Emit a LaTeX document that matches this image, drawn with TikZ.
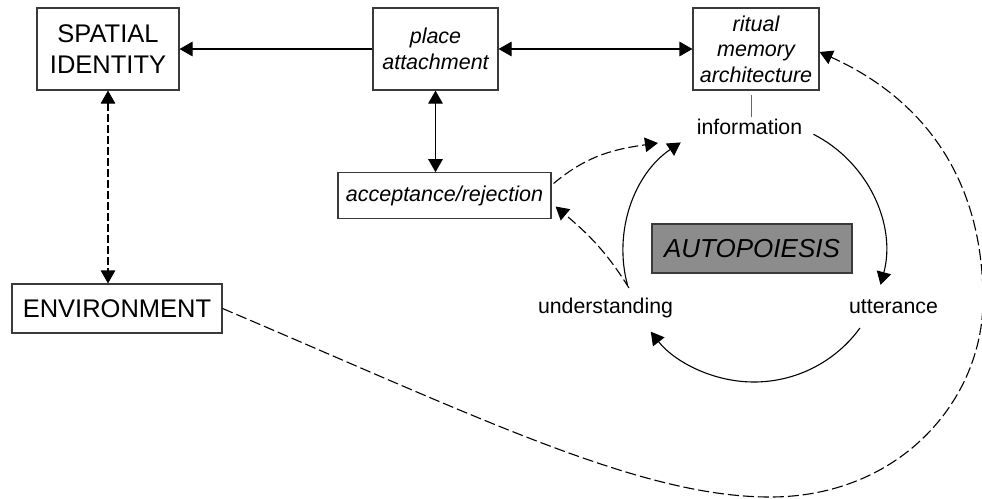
\documentclass[tikz,border=0pt]{standalone}
\usepackage{fontspec}
\setmainfont{Liberation Sans}
\usetikzlibrary{arrows.meta,calc}

\definecolor{boxline}{HTML}{3A3A3A}
\definecolor{autofill}{HTML}{8C8C8C}

\tikzset{
  box/.style={draw=boxline, line width=1.1pt, fill=white, rectangle,
    inner sep=0pt, align=center},
  bigtext/.style={font=\fontsize{25.5}{31}\selectfont},
  ittext/.style={font=\fontsize{21.5}{25.5}\selectfont\itshape},
  label/.style={font=\fontsize{21.3}{25}\selectfont, inner sep=0pt, anchor=base},
  tip/.style={-{Triangle[length=13pt,width=14.5pt]}},
  tips/.style={{Triangle[length=13pt,width=14.5pt]}-{Triangle[length=13pt,width=14.5pt]}},
  conn/.style={line width=1.1pt, black},
  dashconn/.style={conn, dash pattern=on 10pt off 4pt},
}

\begin{document}
\begin{tikzpicture}[x=1pt,y=1pt]
\useasboundingbox (0,0) rectangle (982,-498);

% boxes
\node[box, bigtext, minimum width=142pt, minimum height=82pt] (spatial) at (108,-49) {SPATIAL\\IDENTITY};
\node[box, ittext, minimum width=125pt, minimum height=82pt] (place) at (435.5,-49) {place\\attachment};
\node[box, ittext, minimum width=126pt, minimum height=82pt] (ritual) at (756,-49) {ritual\\memory\\architecture};
\node[box, ittext, minimum width=213pt, minimum height=45.5pt] (acc) at (444.5,-195.5) {acceptance/rejection};
\node[box, fill=autofill, font=\fontsize{26}{30}\selectfont\itshape, minimum width=200pt, minimum height=49pt] (auto) at (752,-248.5) {AUTOPOIESIS};
\node[box, bigtext, minimum width=210pt, minimum height=49pt] (env) at (117,-308.5) {ENVIRONMENT};

% cycle labels
\node[label] (info) at (749.5,-134) {information};
\node[label] (und) at (605.5,-313) {understanding};
\node[label] (utt) at (893.5,-313) {utterance};

% straight connectors
\draw[conn, tip] (place.west) -- (spatial.east);
\draw[conn, tips] (place.east) -- (ritual.west);
\draw[conn, tips] (place.south) -- (place.south |- acc.north);
\draw[conn, tips, dash pattern=on 8pt off 3pt] (spatial.south) -- (spatial.south |- env.north);
\draw[line width=1pt, black!60, shorten >=4pt] ([xshift=1.5pt,yshift=1pt]info.north) -- ([xshift=1.5pt]info.north |- ritual.south);

% autopoietic cycle
\coordinate (ctr) at (754,-251);
\draw[conn, tip] ($(ctr)+(63:131)$) arc[start angle=63, end angle=-15, radius=131];
\draw[conn, tip] ($(ctr)+(-36:131)$) arc[start angle=-36, end angle=-142, radius=131];
\draw[conn, tip] ($(ctr)+(195:131)$) arc[start angle=195, end angle=124, radius=131];

% dashed feedback links
\coordinate (infoL) at (658,-143);
\coordinate (undT) at (629,-288);
\draw[dashconn, tip] ([xshift=2pt,yshift=12pt]acc.east) to[out=40, in=188] (infoL);
\draw[dashconn, tip] (undT) to[out=122, in=-40] ([xshift=4pt,yshift=-11pt]acc.east);
\draw[dashconn, tip, dash pattern=on 11pt off 4pt] (env.east)
  .. controls (480,-418) and (640,-497) .. (770,-497)
  .. controls (900,-497) and (983,-400) .. (983,-300)
  .. controls (983,-170) and (915,-95) .. ([yshift=-3pt]ritual.east);
\end{tikzpicture}
\end{document}
